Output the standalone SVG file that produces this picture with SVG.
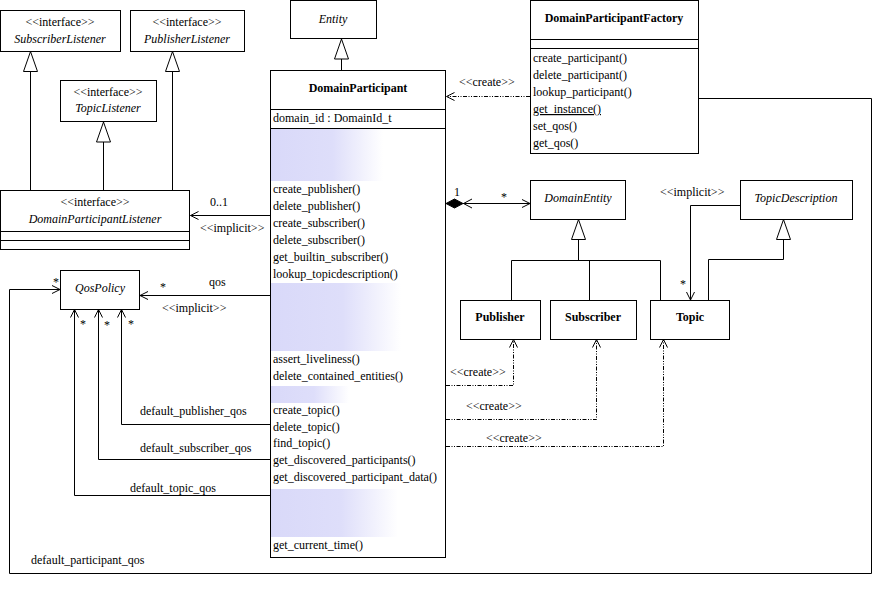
<svg xmlns="http://www.w3.org/2000/svg" width="878" height="594" viewBox="0 0 878 594">
<style>
  text { font-family: "Liberation Serif", "Times New Roman", serif; font-size: 12px; fill: #000; }
  .it { font-style: italic; }
  .b { font-weight: bold; }
  .c { text-anchor: middle; }
  .box { fill: #fff; stroke: #000; stroke-width: 1; }
  .ln { fill: none; stroke: #000; stroke-width: 1; }
  .dash { fill: none; stroke: #000; stroke-width: 1; stroke-dasharray: 4 1.5 1 1.5 1 1.5; }
  .shade { fill: url(#shadeGrad); }
</style>
<defs>
  <linearGradient id="shadeGrad" x1="0" y1="0" x2="1" y2="0">
    <stop offset="0" stop-color="#d9d9f9"/>
    <stop offset="0.55" stop-color="#dedefa"/>
    <stop offset="1" stop-color="#ffffff"/>
  </linearGradient>
  <marker id="open" markerUnits="userSpaceOnUse" markerWidth="12" markerHeight="12" refX="9" refY="5" orient="auto" overflow="visible">
    <path d="M1,1 L9,5 L1,9" fill="none" stroke="#000" stroke-width="1"/>
  </marker>
  <marker id="tri" markerUnits="userSpaceOnUse" markerWidth="22" markerHeight="16" refX="20" refY="7" orient="auto" overflow="visible">
    <path d="M0,0 L20,7 L0,14 Z" fill="#fff" stroke="#000" stroke-width="1"/>
  </marker>
</defs>
<rect width="878" height="594" fill="#fff"/>

<g id="connectors">
  <path class="ln" d="M30.5,190 V51.5" marker-end="url(#tri)"/>
  <path class="ln" d="M172.5,190 V51.5" marker-end="url(#tri)"/>
  <path class="ln" d="M103.5,190 V122" marker-end="url(#tri)"/>
  <path class="ln" d="M341.5,70 V39" marker-end="url(#tri)"/>
  <path class="dash" d="M530,96.5 H446.5" marker-end="url(#open)"/>
  <path class="ln" d="M270,215.5 H190.5" marker-end="url(#open)"/>
  <path class="ln" d="M270,295.5 H140" marker-end="url(#open)"/>
  <path class="ln" d="M270,424.5 H121.5 V309.5" marker-end="url(#open)"/>
  <path class="ln" d="M270,459.5 H98.5 V309.5" marker-end="url(#open)"/>
  <path class="ln" d="M270,495.5 H74.5 V309.5" marker-end="url(#open)"/>
  <path class="ln" d="M698.5,98.5 H871.5 V573.5 H9.5 V289.5 H60" marker-end="url(#open)"/>
  <path class="ln" d="M463,203.5 H530" marker-end="url(#open)"/>
  <path class="ln" d="M472,199 L463.5,203.5 L472,208"/>
  <polygon points="446,203.5 454.5,199 463,203.5 454.5,208" fill="#000" stroke="#000"/>
  <path class="ln" d="M511.5,300 V260.5 H660.5 V300"/>
  <path class="ln" d="M589.5,300 V260.5"/>
  <path class="ln" d="M578.5,260.5 V219.5" marker-end="url(#tri)"/>
  <path class="ln" d="M708.5,300 V259.5 H783.5 V219.5" marker-end="url(#tri)"/>
  <path class="ln" d="M740,205.5 H690.5 V300" marker-end="url(#open)"/>
  <path class="dash" d="M446,385.5 H513.5 V339.5" marker-end="url(#open)"/>
  <path class="dash" d="M446,419.5 H596.5 V339.5" marker-end="url(#open)"/>
  <path class="dash" d="M446,446.5 H663.5 V339.5" marker-end="url(#open)"/>

  <text x="459" y="86">&lt;&lt;create&gt;&gt;</text>
  <text x="210" y="206">0..1</text>
  <text x="200" y="232">&lt;&lt;implicit&gt;&gt;</text>
  <text x="209" y="286">qos</text>
  <text x="160" y="291">*</text>
  <text x="162" y="312">&lt;&lt;implicit&gt;&gt;</text>
  <text x="53" y="286">*</text>
  <text x="80" y="328">*</text>
  <text x="104" y="329">*</text>
  <text x="128" y="328">*</text>
  <text x="140" y="415">default_publisher_qos</text>
  <text x="140" y="452">default_subscriber_qos</text>
  <text x="130" y="492">default_topic_qos</text>
  <text x="31" y="564">default_participant_qos</text>
  <text x="454" y="196">1</text>
  <text x="501" y="201">*</text>
  <text x="660" y="196">&lt;&lt;implicit&gt;&gt;</text>
  <text x="680" y="288">*</text>
  <text x="450" y="376">&lt;&lt;create&gt;&gt;</text>
  <text x="466" y="410">&lt;&lt;create&gt;&gt;</text>
  <text x="486" y="442">&lt;&lt;create&gt;&gt;</text>
</g>

<g id="SubscriberListener">
  <rect class="box" x="0.5" y="10.5" width="120" height="41"/>
  <text class="c" x="60" y="26">&lt;&lt;interface&gt;&gt;</text>
  <text class="c it" x="60" y="43">SubscriberListener</text>
</g>
<g id="PublisherListener">
  <rect class="box" x="130.5" y="10.5" width="114" height="41"/>
  <text class="c" x="187" y="26">&lt;&lt;interface&gt;&gt;</text>
  <text class="c it" x="187" y="43">PublisherListener</text>
</g>
<g id="TopicListener">
  <rect class="box" x="60.5" y="80.5" width="96" height="41"/>
  <text class="c" x="108" y="96">&lt;&lt;interface&gt;&gt;</text>
  <text class="c it" x="108" y="112">TopicListener</text>
</g>
<g id="DomainParticipantListener">
  <rect class="box" x="0.5" y="190.5" width="189" height="59"/>
  <line class="ln" x1="0.5" y1="231.5" x2="189.5" y2="231.5"/>
  <line class="ln" x1="0.5" y1="240.5" x2="189.5" y2="240.5"/>
  <text class="c" x="95" y="206">&lt;&lt;interface&gt;&gt;</text>
  <text class="c it" x="95" y="223">DomainParticipantListener</text>
</g>
<g id="Entity">
  <rect class="box" x="290.5" y="0.5" width="86" height="38"/>
  <text class="c it" x="333" y="23">Entity</text>
</g>
<g id="DomainParticipant">
  <rect class="box" x="270.5" y="70.5" width="175" height="487"/>
  <line class="ln" x1="270.5" y1="109.5" x2="445.5" y2="109.5"/>
  <line class="ln" x1="270.5" y1="128.5" x2="445.5" y2="128.5"/>
  <rect class="shade" x="271" y="129" width="112" height="52"/>
  <rect class="shade" x="271" y="283" width="130" height="68"/>
  <rect class="shade" x="271" y="386" width="78" height="17"/>
  <rect class="shade" x="271" y="489" width="127" height="48"/>
  <text class="c b" x="358" y="92">DomainParticipant</text>
  <text x="273" y="122">domain_id : DomainId_t</text>
  <text x="273" y="193">create_publisher()</text>
  <text x="273" y="210">delete_publisher()</text>
  <text x="273" y="227">create_subscriber()</text>
  <text x="273" y="244">delete_subscriber()</text>
  <text x="273" y="261">get_builtin_subscriber()</text>
  <text x="273" y="278">lookup_topicdescription()</text>
  <text x="273" y="363">assert_liveliness()</text>
  <text x="273" y="380">delete_contained_entities()</text>
  <text x="273" y="414">create_topic()</text>
  <text x="273" y="431">delete_topic()</text>
  <text x="273" y="447">find_topic()</text>
  <text x="273" y="464">get_discovered_participants()</text>
  <text x="273" y="481">get_discovered_participant_data()</text>
  <text x="273" y="549">get_current_time()</text>
</g>
<g id="DomainParticipantFactory">
  <rect class="box" x="530.5" y="0.5" width="168" height="153"/>
  <line class="ln" x1="530.5" y1="39.5" x2="698.5" y2="39.5"/>
  <line class="ln" x1="530.5" y1="48.5" x2="698.5" y2="48.5"/>
  <text class="c b" x="614" y="22">DomainParticipantFactory</text>
  <text x="533" y="62">create_participant()</text>
  <text x="533" y="79">delete_participant()</text>
  <text x="533" y="96">lookup_participant()</text>
  <text x="533" y="113" text-decoration="underline">get_instance()</text>
  <text x="533" y="130">set_qos()</text>
  <text x="533" y="147">get_qos()</text>
</g>
<g id="QosPolicy">
  <rect class="box" x="60.5" y="270.5" width="79" height="39"/>
  <text class="c it" x="100" y="292">QosPolicy</text>
</g>
<g id="DomainEntity">
  <rect class="box" x="530.5" y="180.5" width="95" height="39"/>
  <text class="c it" x="578" y="202">DomainEntity</text>
</g>
<g id="TopicDescription">
  <rect class="box" x="740.5" y="180.5" width="112" height="39"/>
  <text class="c it" x="796" y="202">TopicDescription</text>
</g>
<g id="Publisher">
  <rect class="box" x="460.5" y="300.5" width="80" height="39"/>
  <text class="c b" x="500" y="321">Publisher</text>
</g>
<g id="Subscriber">
  <rect class="box" x="550.5" y="300.5" width="86" height="39"/>
  <text class="c b" x="593" y="321">Subscriber</text>
</g>
<g id="Topic">
  <rect class="box" x="650.5" y="300.5" width="79" height="39"/>
  <text class="c b" x="690" y="321">Topic</text>
</g>
</svg>
